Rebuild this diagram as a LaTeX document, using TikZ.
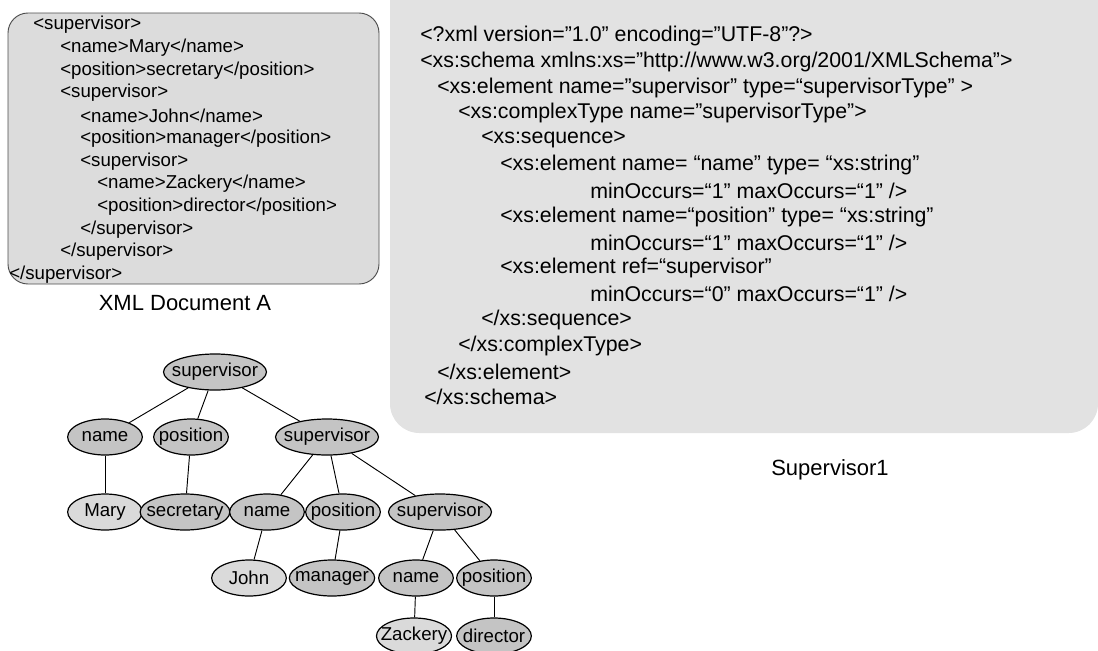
\documentclass[tikz,border=0pt]{standalone}
\usepackage{fontspec}
\setmainfont{Liberation Sans}
\usetikzlibrary{shapes.geometric}
\definecolor{docgray}{HTML}{DCDCDC}
\definecolor{schemagray}{HTML}{E2E2E2}
\definecolor{elemgray}{HTML}{C4C4C4}
\definecolor{valgray}{HTML}{DADADA}

\begin{document}
\begin{tikzpicture}[x=0.75pt,y=-0.75pt,-]
    \tikzstyle{docline}=[anchor=west,inner sep=0pt,font=\fontsize{14}{16}\selectfont]
    \tikzstyle{xsdline}=[anchor=west,inner sep=0pt,font=\fontsize{16}{18}\selectfont]
    \tikzstyle{caption}=[font=\fontsize{16.5}{19}\selectfont]
    \tikzstyle{elem}=[ellipse,draw=black,line width=0.9pt,fill=elemgray,minimum width=56pt,minimum height=27pt,inner xsep=-5pt,inner ysep=0pt,font=\fontsize{14}{16}\selectfont]
    \tikzstyle{val}=[elem,fill=valgray]
    \useasboundingbox (0,0) rectangle (1098,650);

    % the two boxes
    \fill[schemagray,rounded corners=22pt] (390,-40) rectangle (1098,433);
    \draw[gray!60!black,line width=0.7pt,fill=docgray,rounded corners=15pt] (8,13) rectangle (379,284);

    \foreach \i/\x/\txt in {1/33/{<supervisor>}, 2/60/{<name>Mary</name>},
            3/60/{<position>secretary</position>}, 4/60/{<supervisor>},
            5/80/{<name>John</name>}, 6/80/{<position>manager</position>},
            7/80/{<supervisor>}, 8/97/{<name>Zackery</name>},
            9/97/{<position>director</position>}, 10/80/{</supervisor>},
            11/60/{</supervisor>}, 12/9/{</supervisor>}}
        \node[docline] (doc-\i) at (\x,{25+22.7*(\i-1)}) {\txt};

    \foreach \i/\x/\txt in {1/420/{<?xml version="1.0" encoding="UTF-8"?>},
            2/420/{<xs:schema xmlns:xs="http://www.w3.org/2001/XMLSchema">},
            3/437/{<xs:element name="supervisor" type=“supervisorType” >},
            4/458/{<xs:complexType name="supervisorType">},
            5/481/{<xs:sequence>},
            6/500/{<xs:element name= “name” type= “xs:string”},
            7/590/{minOccurs=“1” maxOccurs=“1” />},
            8/500/{<xs:element name=“position” type= “xs:string”},
            9/590/{minOccurs=“1” maxOccurs=“1” />},
            10/500/{<xs:element ref=“supervisor”},
            11/590/{minOccurs=“0” maxOccurs=“1” />},
            12/481/{</xs:sequence>}, 13/458/{</xs:complexType>},
            14/437/{</xs:element>}, 15/424/{</xs:schema>}}
        \node[xsdline] (xsd-\i) at (\x,{36+25.8*(\i-1)}) {\txt};

    \node[caption] (capA) at (185,303) {XML Document A};
    \node[caption] (capS) at (830,470) {Supervisor1};

    % tree of document A
    \node[elem] (sup1) at (215,372) {supervisor};
    \node[elem] (name1) at (105,437) {name};
    \node[elem] (pos1) at (191,437) {position};
    \node[elem] (sup2) at (327,437) {supervisor};
    \node[val] (mary) at (105,512) {Mary};
    \node[elem] (secr) at (185,512) {secretary};
    \node[elem] (name2) at (267,512) {name};
    \node[elem] (pos2) at (343,512) {position};
    \node[elem] (sup3) at (440,512) {supervisor};
    \node[val] (john) at (249,578) {John};
    \node[elem] (mgr) at (332,578) {manager};
    \node[elem] (name3) at (416,578) {name};
    \node[elem] (pos3) at (494,578) {position};
    \node[val] (zack) at (414,636) {Zackery};
    \node[elem] (dir) at (494,636) {director};

    \foreach \from/\to in {sup1/name1,sup1/pos1,sup1/sup2,name1/mary,pos1/secr,
            sup2/name2,sup2/pos2,sup2/sup3,name2/john,pos2/mgr,
            sup3/name3,sup3/pos3,name3/zack,pos3/dir}
        \draw[line width=0.7pt] (\from) -- (\to);
\end{tikzpicture}
\end{document}
